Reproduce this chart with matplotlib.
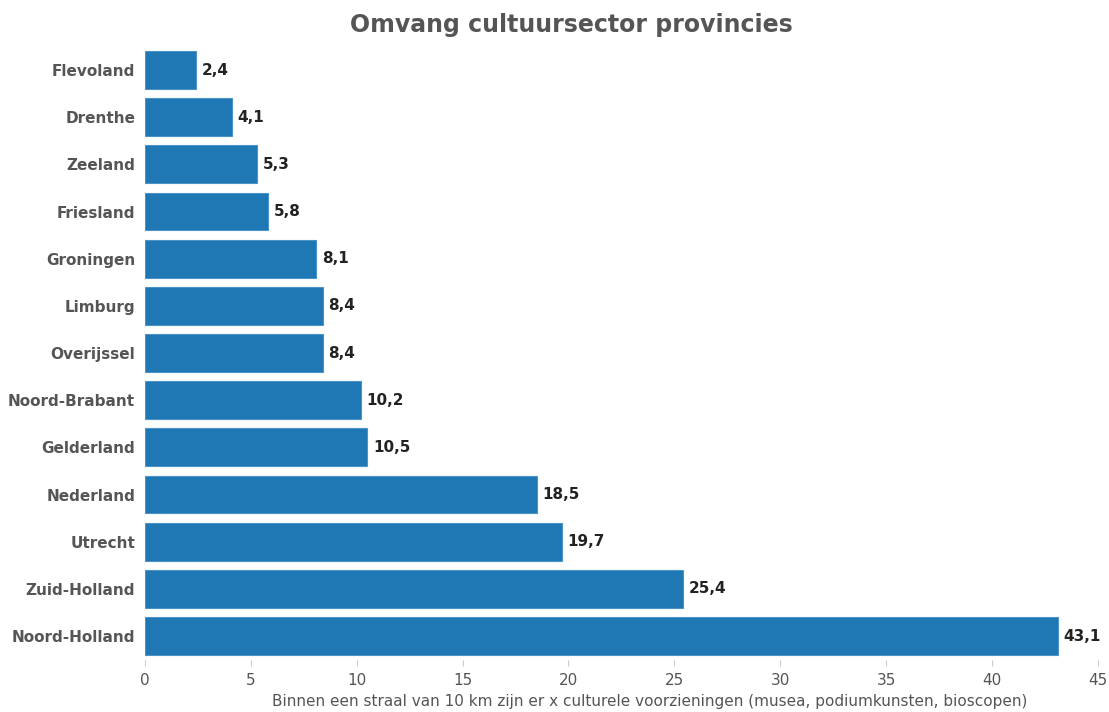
import matplotlib
matplotlib.use("Agg")
import matplotlib.pyplot as plt

provincies = ["Flevoland", "Drenthe", "Zeeland", "Friesland", "Groningen", "Limburg",
              "Overijssel", "Noord-Brabant", "Gelderland", "Nederland", "Utrecht",
              "Zuid-Holland", "Noord-Holland"]
waarden = [2.4, 4.1, 5.3, 5.8, 8.1, 8.4, 8.4, 10.2, 10.5, 18.5, 19.7, 25.4, 43.1]
xticks = [0, 5, 10, 15, 20, 25, 30, 35, 40, 45]

plt.rcParams['font.family'] = ['DejaVu Sans']

fig = plt.figure(figsize=(11.09, 7.12), dpi=100)
ax = fig.add_axes([0.1307, 0.0736, 0.8593, 0.8612])

pos = list(range(len(provincies)))
bars = ax.barh(pos, waarden, height=0.8, color="#1f77b4", edgecolor="#4a93c6", linewidth=0.8)
ax.set_ylim(len(provincies) - 0.5, -0.5)
ax.set_xlim(0, 45)
ax.set_yticks(pos)
ax.set_yticklabels(provincies, fontsize=11, fontweight="bold", color="#555555")
ax.set_xticks(xticks)
ax.set_xticklabels([str(t) for t in xticks], fontsize=11, color="#555555")

for b, v in zip(bars, waarden):
    ax.annotate(("%.1f" % v).replace(".", ","), (b.get_width(), b.get_y() + b.get_height() / 2),
                xytext=(4, 0), textcoords="offset points", va="center", ha="left",
                fontsize=11, fontweight="bold", color="#222222")

for s in ax.spines.values():
    s.set_visible(False)
ax.tick_params(axis="y", length=0, pad=7)
ax.tick_params(axis="x", length=4, color="#cccccc", pad=6)

ax.set_xlabel("Binnen een straal van 10 km zijn er x culturele voorzieningen (musea, podiumkunsten, bioscopen)",
              fontsize=11, color="#555555")
ax.xaxis.set_label_coords(0.53, -0.056)
fig.suptitle("Omvang cultuursector provincies", x=0.515, y=0.982, fontsize=17,
             fontweight="bold", color="#555555")

fig.savefig("out.png", dpi=100)
